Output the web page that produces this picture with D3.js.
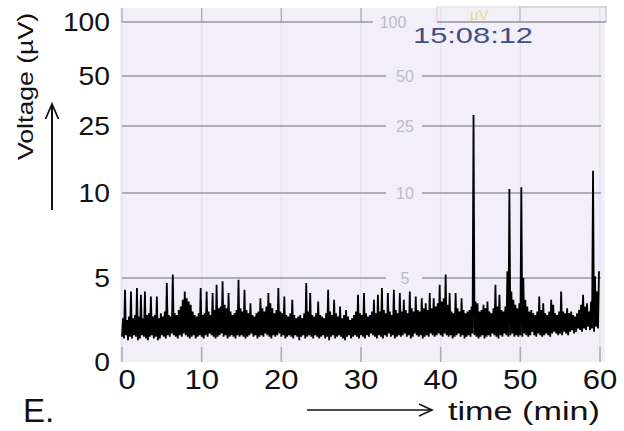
<!DOCTYPE html>
<html>
<head>
<meta charset="utf-8">
<script src="https://cdn.jsdelivr.net/npm/d3@7"></script>
<style>
  body { margin: 0; background: #fff; }
  svg { display: block; font-family: "Liberation Sans", Arial, sans-serif; }
</style>
</head>
<body>
<svg id="chart"></svg>
<script>
// y axis is piecewise (0..10 stretched, 10..100 compressed)
const yTicks = [0, 5, 10, 25, 50, 100];
const gridValues = [5, 10, 25, 50, 100];
const xTicks = [0, 10, 20, 30, 40, 50, 60];
const clockLabel = "15:08:12";
const binMinutes = 0.25;

// upper envelope of the trace per 0.25 min bin (µV)
const highs = [
  2.6,4.3,2.5,2.7,4.2,2.6,2.8,4.4,2.7,4.0,2.6,4.2,2.8,2.9,3.9,2.7,2.8,3.9,2.6,2.9,
  2.7,3.0,4.7,2.8,2.7,5.2,2.9,2.8,3.1,3.3,3.7,4.2,3.8,3.6,3.4,3.0,2.8,2.7,2.9,4.4,
  2.8,2.9,4.2,3.0,2.8,4.1,3.1,4.6,3.2,3.3,4.8,3.4,3.2,4.1,3.0,2.8,2.9,3.1,4.9,3.2,
  3.0,4.3,3.1,2.9,3.5,2.8,2.7,2.9,3.0,3.8,3.2,3.0,3.3,4.1,3.5,3.2,2.9,3.1,4.4,3.0,
  2.9,3.9,2.8,2.7,2.9,3.7,2.8,2.6,2.7,2.8,2.6,2.9,4.7,3.0,4.1,2.8,2.7,2.9,3.6,2.8,
  2.7,2.6,2.9,4.3,3.0,2.8,3.7,2.9,2.7,3.3,2.6,2.8,3.1,2.7,2.5,2.6,2.8,3.0,4.0,2.9,
  2.8,4.1,2.9,2.7,2.8,3.0,3.7,2.9,4.0,3.0,4.4,3.1,2.9,4.1,3.0,2.8,4.3,3.1,2.9,4.1,
  3.0,3.7,3.1,2.9,4.2,3.2,3.0,3.9,3.1,3.0,3.8,3.2,3.5,3.1,4.1,3.2,3.8,3.3,3.5,4.6,
  3.6,3.8,5.2,3.4,4.1,3.0,2.9,4.1,3.2,3.0,3.8,3.1,2.9,3.0,3.1,3.3,30.5,3.6,3.5,3.0,
  3.1,3.4,3.2,3.6,3.0,2.9,3.2,4.6,3.3,4.0,3.1,3.0,3.3,5.4,10.9,4.2,3.7,3.4,3.2,3.5,
  11.3,5.0,3.7,3.3,3.0,3.1,2.9,2.8,3.0,3.9,3.1,3.5,2.9,2.8,3.0,3.7,3.4,2.9,2.8,3.0,
  4.2,3.0,2.9,3.2,2.9,3.0,2.8,2.7,2.9,3.1,3.4,4.0,3.3,3.5,3.0,3.6,15.0,5.1,4.2,5.4
];

// lower envelope of the trace per bin (µV)
const lows = [
  1.5,1.4,1.6,1.3,1.5,1.4,1.6,1.5,1.3,1.4,1.6,1.5,1.4,1.3,1.5,1.6,1.4,1.5,1.3,1.4,
  1.6,1.5,1.4,1.6,1.5,1.7,1.6,1.5,1.4,1.6,1.5,1.7,1.6,1.5,1.4,1.5,1.6,1.4,1.5,1.6,
  1.5,1.4,1.6,1.5,1.7,1.6,1.5,1.4,1.5,1.6,1.7,1.5,1.6,1.4,1.5,1.6,1.5,1.4,1.6,1.5,
  1.6,1.5,1.4,1.5,1.6,1.7,1.5,1.6,1.4,1.5,1.6,1.5,1.7,1.6,1.5,1.4,1.6,1.5,1.6,1.7,
  1.5,1.6,1.4,1.5,1.6,1.5,1.4,1.6,1.5,1.3,1.5,1.6,1.4,1.5,1.6,1.5,1.4,1.6,1.5,1.4,
  1.5,1.6,1.4,1.5,1.3,1.5,1.6,1.4,1.5,1.6,1.5,1.4,1.3,1.5,1.6,1.4,1.5,1.6,1.5,1.4,
  1.6,1.5,1.4,1.6,1.5,1.7,1.6,1.5,1.4,1.6,1.5,1.4,1.6,1.5,1.7,1.5,1.6,1.4,1.5,1.6,
  1.5,1.6,1.7,1.5,1.6,1.4,1.5,1.7,1.6,1.5,1.6,1.4,1.5,1.6,1.5,1.7,1.6,1.5,1.6,1.7,
  1.6,1.5,1.7,1.6,1.5,1.6,1.4,1.5,1.6,1.7,1.5,1.6,1.4,1.5,1.6,1.5,1.7,1.6,1.5,1.4,
  1.5,1.6,1.4,1.5,1.6,1.5,1.7,1.6,1.5,1.4,1.6,1.5,1.7,1.6,1.5,1.6,1.7,1.5,1.6,1.5,
  1.6,1.5,1.7,1.6,1.5,1.6,1.8,1.6,1.5,1.7,1.6,1.5,1.6,1.7,1.6,1.5,1.7,1.8,1.7,1.6,
  1.7,1.6,1.8,1.7,1.6,1.8,1.9,1.7,1.8,2.0,1.9,1.8,2.0,1.9,2.1,1.9,2.0,1.8,2.1,2.0
];

const width = 624, height = 431;
const plot = { left: 120, right: 605, top: 8, bottom: 362 };

const svg = d3.select("#chart")
  .attr("width", width)
  .attr("height", height);

svg.append("rect").attr("width", width).attr("height", height).attr("fill", "#fff");

// scales
const xScale = d3.scaleLinear().domain([0, 60]).range([122, 600]);
const yScale = d3.scaleLinear().domain(yTicks).range([362, 278, 193, 126, 76, 22]);

// plot background
svg.append("rect")
  .attr("x", plot.left).attr("y", plot.top)
  .attr("width", plot.right - plot.left)
  .attr("height", plot.bottom - plot.top)
  .attr("fill", "#f2eff8");

// faint vertical grid
svg.append("g").selectAll("line")
  .data(xTicks)
  .join("line")
  .attr("x1", d => xScale(d)).attr("x2", d => xScale(d))
  .attr("y1", plot.top).attr("y2", plot.bottom)
  .attr("stroke", "#e6e2ee")
  .attr("stroke-width", 1.5);

// darker stubs at top left (remains of display frame)
svg.append("g").selectAll("line")
  .data(xTicks.filter(d => d <= 30))
  .join("line")
  .attr("x1", d => xScale(d)).attr("x2", d => xScale(d))
  .attr("y1", plot.top).attr("y2", yScale(100))
  .attr("stroke", "#a9a7b2")
  .attr("stroke-width", 1.2);

// header boxes at top right
svg.append("rect").attr("x", 437).attr("y", 7).attr("width", 83).attr("height", 15)
  .attr("fill", "none").attr("stroke", "#d2d0d8").attr("stroke-width", 1);
svg.append("rect").attr("x", 520).attr("y", 7).attr("width", 86).attr("height", 15)
  .attr("fill", "none").attr("stroke", "#bebcc5").attr("stroke-width", 1.2);
svg.append("text").attr("x", 470).attr("y", 20)
  .attr("font-size", 15).attr("fill", "#e6d98f").text("µV");

// horizontal grid lines, broken around the inner labels
const gridG = svg.append("g");
gridValues.forEach(v => {
  const y = yScale(v);
  const segs = v === 100 ? [[122, 373], [437, 606]] : [[122, 386], [422, 601]];
  segs.forEach(s => {
    gridG.append("line")
      .attr("x1", s[0]).attr("x2", s[1])
      .attr("y1", y).attr("y2", y)
      .attr("stroke", "#99979f")
      .attr("stroke-width", 1.5);
  });
  gridG.append("text")
    .attr("x", v === 100 ? 393 : 405)
    .attr("y", y + 6)
    .attr("text-anchor", "middle")
    .attr("font-size", 16)
    .attr("fill", "#bdbcc4")
    .text(v);
});

// x tick marks
svg.append("g").selectAll("line")
  .data(xTicks)
  .join("line")
  .attr("x1", d => xScale(d)).attr("x2", d => xScale(d))
  .attr("y1", 347).attr("y2", plot.bottom)
  .attr("stroke", "#aaa8b2")
  .attr("stroke-width", 1.5);

// trace: alternate lower/upper envelope per bin
const points = [];
highs.forEach((h, i) => {
  points.push([i * binMinutes, lows[i]]);
  points.push([i * binMinutes + binMinutes / 2, h]);
});

svg.append("path")
  .datum(points)
  .attr("fill", "none")
  .attr("stroke", "#000")
  .attr("stroke-width", 1.8)
  .attr("stroke-linejoin", "bevel")
  .attr("d", d3.line()
    .x(d => xScale(d[0]))
    .y(d => yScale(d[1])));

// clock stamp
svg.append("text")
  .attr("x", 413).attr("y", 43)
  .attr("font-size", 22)
  .attr("fill", "#3e4e85")
  .attr("textLength", 120)
  .attr("lengthAdjust", "spacingAndGlyphs")
  .text(clockLabel);

// y tick labels
svg.append("g").selectAll("text")
  .data(yTicks)
  .join("text")
  .attr("transform", d => `translate(110,${yScale(d) + 9}) scale(1.13,1)`)
  .attr("text-anchor", "end")
  .attr("font-size", 25)
  .attr("fill", "#111")
  .text(d => d);

// x tick labels
svg.append("g").selectAll("text")
  .data(xTicks)
  .join("text")
  .attr("transform", d => `translate(${xScale(d) + (d === 0 ? 5 : 0)},389) scale(1.15,1)`)
  .attr("text-anchor", "middle")
  .attr("font-size", 27)
  .attr("fill", "#111")
  .text(d => d);

// y title + arrow
svg.append("text")
  .attr("transform", "translate(33,160) rotate(-90)")
  .attr("font-size", 22)
  .attr("fill", "#111")
  .attr("textLength", 147)
  .attr("lengthAdjust", "spacingAndGlyphs")
  .text("Voltage (µV)");

svg.append("line").attr("x1", 52).attr("x2", 52).attr("y1", 210).attr("y2", 104)
  .attr("stroke", "#111").attr("stroke-width", 2);
svg.append("path").attr("d", "M45.5,119 L52,104 L58.5,119")
  .attr("fill", "none").attr("stroke", "#111").attr("stroke-width", 1.8);

// x title + arrow
svg.append("line").attr("x1", 307).attr("x2", 431).attr("y1", 410).attr("y2", 410)
  .attr("stroke", "#111").attr("stroke-width", 1.6);
svg.append("path").attr("d", "M419,404 L432,410 L419,416")
  .attr("fill", "none").attr("stroke", "#111").attr("stroke-width", 1.6);

svg.append("text")
  .attr("x", 448).attr("y", 420)
  .attr("font-size", 25)
  .attr("fill", "#111")
  .attr("textLength", 152)
  .attr("lengthAdjust", "spacingAndGlyphs")
  .text("time (min)");

// panel letter
svg.append("text")
  .attr("x", 23).attr("y", 422)
  .attr("font-size", 33)
  .attr("fill", "#111")
  .text("E.");
</script>
</body>
</html>
